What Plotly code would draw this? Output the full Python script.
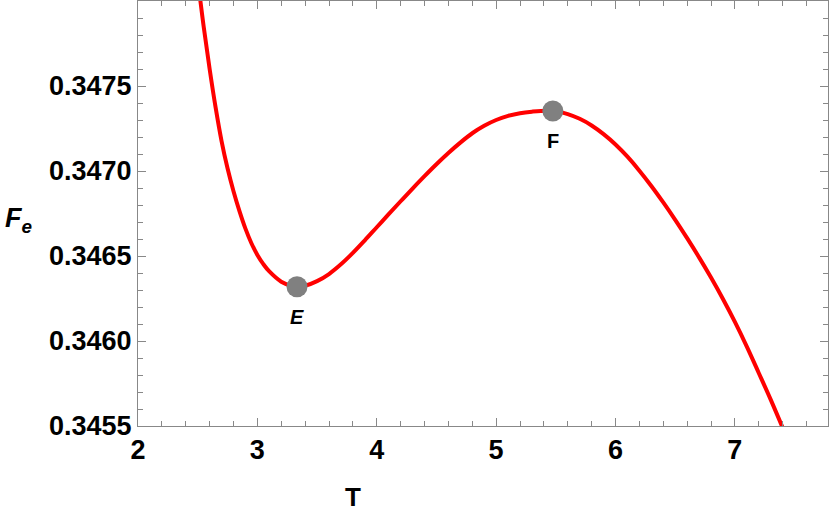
import plotly.graph_objects as go

# Curve
T = [2.50, 2.55, 2.60, 2.65, 2.70, 2.75, 2.80, 2.85, 2.90, 2.95,
     3.00, 3.05, 3.10, 3.20, 3.30, 3.332, 3.40, 3.50, 3.60, 3.70,
     3.80, 3.90, 4.00, 4.10, 4.20, 4.30, 4.40, 4.50, 4.60, 4.70,
     4.80, 4.90, 5.00, 5.10, 5.20, 5.30, 5.42, 5.50, 5.60, 5.70,
     5.80, 5.90, 6.00, 6.10, 6.20, 6.30, 6.40, 6.50, 6.60, 6.70,
     6.80, 6.90, 7.00, 7.10, 7.20, 7.30, 7.40]
Fe = [0.348130, 0.347850, 0.347600, 0.347374, 0.347176, 0.347016, 0.346881, 0.346764, 0.346661, 0.346575,
      0.346506, 0.346452, 0.346409, 0.346349, 0.346321, 0.346319, 0.346325, 0.346352, 0.346394, 0.346451,
      0.346518, 0.346592, 0.346669, 0.346746, 0.346822, 0.346897, 0.346970, 0.347040, 0.347106, 0.347167,
      0.347222, 0.347266, 0.347300, 0.347324, 0.347340, 0.347349, 0.347355, 0.347351, 0.347335, 0.347307,
      0.347268, 0.347217, 0.347156, 0.347084, 0.347002, 0.346912, 0.346815, 0.346713, 0.346605, 0.346492,
      0.346373, 0.346247, 0.346112, 0.345967, 0.345812, 0.345655, 0.345490]

# Special points
pt_names = ["E", "F"]
pt_T = [3.332, 5.475]
pt_F = [0.346319, 0.347353]
pt_labels = ["<b><i>E</i></b>", "<b>F</b>"]

x_ticks = [2, 3, 4, 5, 6, 7]
y_ticks = [0.3455, 0.3460, 0.3465, 0.3470, 0.3475]
y_ticklabels = ["0.3455", "0.3460", "0.3465", "0.3470", "0.3475"]

FONT = "Liberation Sans, Arial"

fig = go.Figure()
fig.add_trace(go.Scatter(x=T, y=Fe, mode="lines",
                         line=dict(color="#ff0000", width=4, shape="spline", smoothing=1.0),
                         hoverinfo="skip", showlegend=False))
fig.add_trace(go.Scatter(x=pt_T, y=pt_F, mode="markers",
                         marker=dict(color="#808080", size=21),
                         text=pt_names, showlegend=False, cliponaxis=False))

for tx, fy, lab in zip(pt_T, pt_F, pt_labels):
    fig.add_annotation(x=tx, y=fy, text=lab, showarrow=False, yshift=-30,
                       font=dict(family=FONT, size=20, color="black"))

fig.add_annotation(xref="paper", yref="paper", x=(353 - 138) / 690, y=(426 - 497) / 425,
                   text="<b>T</b>", showarrow=False, xanchor="center", yanchor="middle",
                   font=dict(family=FONT, size=26, color="black"))
fig.add_annotation(xref="paper", yref="paper", x=(18 - 138) / 690, y=(426 - 220) / 425,
                   text="<b><i>F<sub>e</sub></i></b>", showarrow=False, xanchor="center", yanchor="middle",
                   font=dict(family=FONT, size=27, color="black"))

axis_common = dict(showline=True, linecolor="#888888", linewidth=1, mirror="ticks",
                   ticks="inside", ticklen=8, tickcolor="#888888", tickwidth=1,
                   showgrid=False, zeroline=False,
                   tickfont=dict(family=FONT, size=27, color="black"))

fig.update_xaxes(range=[2, 7.78], tickvals=x_ticks, ticktext=[f"<b>{v}</b>" for v in x_ticks],
                 minor=dict(ticks="inside", ticklen=5, dtick=0.2, tick0=2, tickcolor="#888888", showgrid=False),
                 **axis_common)
fig.update_yaxes(range=[0.3455, 0.3480], tickvals=y_ticks, ticktext=[f"<b>{v}</b>" for v in y_ticklabels],
                 minor=dict(ticks="inside", ticklen=5, dtick=0.0001, tick0=0.3455, tickcolor="#888888", showgrid=False),
                 **axis_common)

fig.update_layout(width=830, height=519, margin=dict(l=138, r=2, t=1, b=93),
                  plot_bgcolor="white", paper_bgcolor="white", hovermode=False)

fig.write_html("out.html", config={"displayModeBar": False},
               post_script="document.body.style.margin='0';")
